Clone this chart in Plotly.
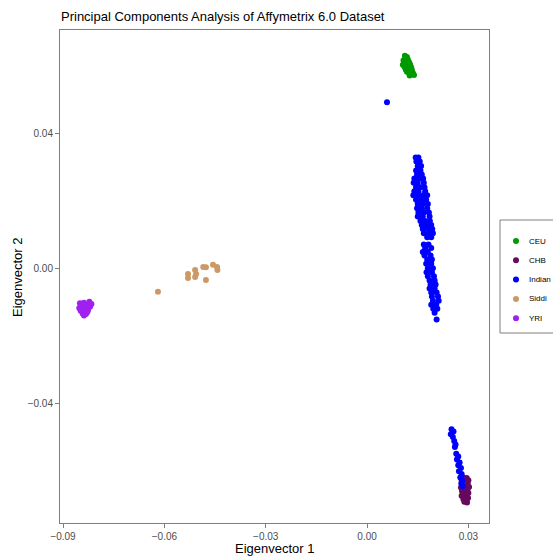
import plotly.graph_objects as go

# ---- data ----
ceu_x = [0.0112, 0.0118, 0.0114, 0.0108, 0.0121, 0.0116, 0.0110, 0.0125, 0.0119, 0.0113,
         0.0106, 0.0122, 0.0128, 0.0117, 0.0111, 0.0124, 0.0131, 0.0120, 0.0115, 0.0127,
         0.0133, 0.0123, 0.0136, 0.0129, 0.0118, 0.0139, 0.0126, 0.0132]
ceu_y = [0.0632, 0.0628, 0.0622, 0.0618, 0.0620, 0.0615, 0.0610, 0.0612, 0.0606, 0.0603,
         0.0605, 0.0600, 0.0604, 0.0596, 0.0598, 0.0592, 0.0596, 0.0589, 0.0590, 0.0585,
         0.0588, 0.0582, 0.0580, 0.0578, 0.0584, 0.0575, 0.0573, 0.0580]

chb_x = [0.0285, 0.0295, 0.0300, 0.0280, 0.0290, 0.0298, 0.0284, 0.0293, 0.0302, 0.0278,
         0.0288, 0.0297, 0.0281, 0.0292, 0.0300, 0.0286, 0.0295, 0.0280, 0.0290, 0.0299,
         0.0285, 0.0294, 0.0288, 0.0296]
chb_y = [-0.0618, -0.0620, -0.0626, -0.0628, -0.0632, -0.0636, -0.0640, -0.0643, -0.0646, -0.0648,
         -0.0652, -0.0655, -0.0658, -0.0661, -0.0664, -0.0667, -0.0670, -0.0672, -0.0676, -0.0679,
         -0.0682, -0.0685, -0.0690, -0.0692]

indian_x = [0.0059,
            0.0144, 0.0152, 0.0146, 0.0156, 0.0150, 0.0160, 0.0145, 0.0158, 0.0148, 0.0162,
            0.0140, 0.0155, 0.0166, 0.0138, 0.0150, 0.0168, 0.0145, 0.0158, 0.0170,
            0.0140, 0.0152, 0.0172, 0.0137, 0.0150, 0.0165, 0.0178, 0.0145, 0.0160, 0.0175,
            0.0150, 0.0165, 0.0180, 0.0148, 0.0162, 0.0178, 0.0152, 0.0168, 0.0183,
            0.0150, 0.0165, 0.0185, 0.0158, 0.0172, 0.0186, 0.0162, 0.0176, 0.0190,
            0.0165, 0.0180, 0.0193, 0.0168, 0.0183, 0.0195, 0.0178, 0.0190,
            0.0168, 0.0182, 0.0172, 0.0190, 0.0165, 0.0180, 0.0170, 0.0188, 0.0178, 0.0192,
            0.0175, 0.0190, 0.0180, 0.0195, 0.0176, 0.0192, 0.0180, 0.0198, 0.0185, 0.0200,
            0.0188, 0.0203, 0.0185, 0.0200, 0.0190, 0.0206, 0.0192, 0.0210, 0.0195, 0.0212,
            0.0190, 0.0205, 0.0196, 0.0208, 0.0200, 0.0206,
            0.0250, 0.0256, 0.0248, 0.0254, 0.0258, 0.0262, 0.0260, 0.0264, 0.0270, 0.0266,
            0.0274, 0.0270, 0.0278, 0.0272, 0.0280, 0.0276, 0.0282, 0.0279, 0.0283]
indian_y = [0.0494,
            0.0330, 0.0330, 0.0318, 0.0318, 0.0305, 0.0305, 0.0292, 0.0292, 0.0280, 0.0280,
            0.0268, 0.0268, 0.0268, 0.0255, 0.0255, 0.0255, 0.0242, 0.0242, 0.0242,
            0.0230, 0.0230, 0.0230, 0.0218, 0.0218, 0.0218, 0.0218, 0.0205, 0.0205, 0.0205,
            0.0192, 0.0192, 0.0192, 0.0180, 0.0180, 0.0180, 0.0167, 0.0167, 0.0167,
            0.0155, 0.0155, 0.0155, 0.0142, 0.0142, 0.0142, 0.0130, 0.0130, 0.0130,
            0.0118, 0.0118, 0.0118, 0.0106, 0.0106, 0.0106, 0.0094, 0.0094,
            0.0072, 0.0072, 0.0062, 0.0062, 0.0050, 0.0050, 0.0040, 0.0040, 0.0028, 0.0028,
            0.0015, 0.0015, 0.0002, 0.0002, -0.0010, -0.0010, -0.0022, -0.0022, -0.0034, -0.0034,
            -0.0046, -0.0046, -0.0058, -0.0058, -0.0070, -0.0070, -0.0082, -0.0082, -0.0094, -0.0094,
            -0.0106, -0.0106, -0.0118, -0.0118, -0.0130, -0.0150,
            -0.0475, -0.0482, -0.0490, -0.0498, -0.0510, -0.0520, -0.0528, -0.0548, -0.0556, -0.0565,
            -0.0574, -0.0582, -0.0590, -0.0600, -0.0608, -0.0618, -0.0626, -0.0636, -0.0644]

siddi_x = [-0.0619, -0.0530, -0.0530, -0.0509, -0.0509, -0.0506, -0.0485, -0.0477, -0.0477,
           -0.0456, -0.0444, -0.0443]
siddi_y = [-0.0068, -0.0015, -0.0027, -0.0003, -0.0024, -0.0015, 0.0006, 0.0005, -0.0033,
           0.0012, 0.0006, -0.0003]

yri_x = [-0.0850, -0.0838, -0.0822, -0.0846, -0.0835, -0.0826, -0.0852, -0.0842, -0.0830, -0.0820,
         -0.0848, -0.0836, -0.0826, -0.0842, -0.0832, -0.0838, -0.0828, -0.0845, -0.0816]
yri_y = [-0.0102, -0.0100, -0.0097, -0.0110, -0.0108, -0.0106, -0.0116, -0.0118, -0.0115, -0.0112,
         -0.0124, -0.0126, -0.0122, -0.0132, -0.0134, -0.0138, -0.0128, -0.0106, -0.0104]

x_ticks = [-0.09, -0.06, -0.03, 0.00, 0.03]
x_labels = ["\u22120.09", "\u22120.06", "\u22120.03", "0.00", "0.03"]
y_ticks = [0.04, 0.00, -0.04]
y_labels = ["0.04", "0.00", "\u22120.04"]

groups = [
    ("CEU", ceu_x, ceu_y, "#009A00"),
    ("CHB", chb_x, chb_y, "#660A5E"),
    ("Indian", indian_x, indian_y, "#0000FF"),
    ("Siddi", siddi_x, siddi_y, "#CC9966"),
    ("YRI", yri_x, yri_y, "#A020F0"),
]

W, H = 553, 559
L, R, T, B = 60, 64, 30, 36
PW, PH = W - L - R, H - T - B


def px(xp):
    return (xp - L) / PW


def py(yp):
    return (H - B - yp) / PH


fig = go.Figure()
for name, xs, ys, col in groups:
    fig.add_trace(go.Scatter(x=xs, y=ys, mode="markers", name=name, showlegend=False,
                             marker=dict(color=col, size=6, line=dict(width=0))))

FONT = "Liberation Sans, Arial, sans-serif"
axis_common = dict(showgrid=False, zeroline=False, showline=True, linecolor="#7f7f7f",
                   linewidth=1, mirror=True, ticks="outside", ticklen=4, tickcolor="#7f7f7f",
                   automargin=False,
                   tickfont=dict(family=FONT, size=10, color="#4d4d4d"))

shapes = [dict(type="rect", xref="paper", yref="paper", x0=px(500), x1=px(570),
               y0=py(333), y1=py(220), line=dict(color="#7f7f7f", width=1),
               fillcolor="white", layer="above")]
annotations = [
    dict(text="Eigenvector 1", xref="paper", yref="paper", x=0.5, y=py(548),
         xanchor="center", yanchor="middle", showarrow=False,
         font=dict(family=FONT, size=13, color="black")),
    dict(text="Eigenvector 2", xref="paper", yref="paper", x=px(17), y=py(277),
         xanchor="center", yanchor="middle", showarrow=False, textangle=-90,
         font=dict(family=FONT, size=13, color="black")),
]
for i, (name, xs, ys, col) in enumerate(groups):
    yc = 241 + i * 19.3
    shapes.append(dict(type="circle", xref="paper", yref="paper",
                       x0=px(513), x1=px(519), y0=py(yc + 3), y1=py(yc - 3),
                       fillcolor=col, line=dict(width=0), layer="above"))
    annotations.append(dict(text=name, xref="paper", yref="paper", x=px(527), y=py(yc),
                            xanchor="left", yanchor="middle", showarrow=False,
                            font=dict(family=FONT, size=8, color="black")))

fig.update_layout(
    width=W, height=H,
    margin=dict(l=L, r=R, t=T, b=B),
    paper_bgcolor="white", plot_bgcolor="white",
    font=dict(family=FONT),
    title=dict(text="Principal Components Analysis of Affymetrix 6.0 Dataset",
               x=61 / W, xanchor="left", y=1 - 16 / H, yanchor="middle",
               font=dict(family=FONT, size=13, color="black")),
    xaxis=dict(range=[-0.0909, 0.0361], tickvals=x_ticks, ticktext=x_labels, **axis_common),
    yaxis=dict(range=[-0.0753, 0.0708], tickvals=y_ticks, ticktext=y_labels, **axis_common),
    shapes=shapes,
    annotations=annotations,
    showlegend=False,
)

fig.write_html("out.html")
